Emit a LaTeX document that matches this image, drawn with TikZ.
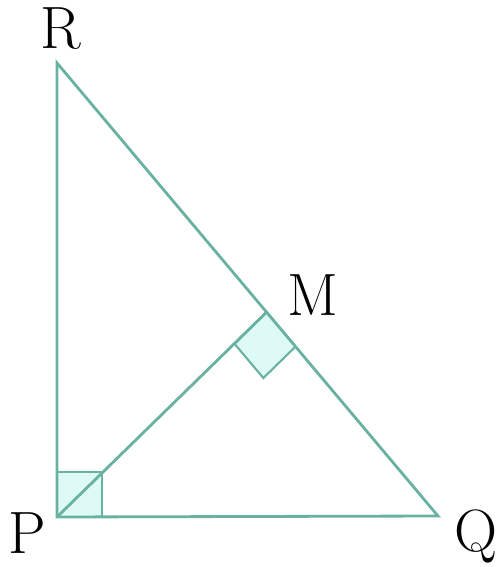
\documentclass[tikz,border=0pt]{standalone}
\usepackage{tikz}
\usetikzlibrary{calc,positioning}
\definecolor{edgecol}{RGB}{105,178,162}
\definecolor{markfill}{RGB}{222,250,247}
\tikzset{side/.style = {draw=edgecol, line width=1.6pt},
         rmark/.style = {draw=edgecol, line width=1.2pt, fill=markfill},
         vlabel/.style = {font=\fontsize{34}{40}\selectfont, inner sep=0pt},
}
\begin{document}
\begin{tikzpicture}[x=0.02cm, y=-0.02cm]
  \useasboundingbox (0,0) rectangle (498,567);

  \coordinate (P) at (57,517);
  \coordinate (R) at (57,63);
  \coordinate (Q) at (438,516);
  \coordinate (M) at ($(R)!0.55!(Q)$);

  % right angle marks
  \filldraw[rmark] (P) rectangle (102,472);
  \coordinate (mq) at ($(M)!0.9cm!(Q)$);
  \coordinate (mp) at ($(M)!0.9cm!(P)$);
  \filldraw[rmark] (M) -- (mq) -- ($(mq)+(mp)-(M)$) -- (mp) -- cycle;

  \draw[side] (R) -- (P) -- (Q) -- cycle;
  \draw[side] (P) -- (M);

  \node[vlabel] (lR) at (61,29) {R};
  \node[vlabel] (lP) at (27,533) {P};
  \node[vlabel] (lQ) at (476,536) {Q};
  \node[vlabel] (lM) at (313,295) {M};
\end{tikzpicture}
\end{document}
